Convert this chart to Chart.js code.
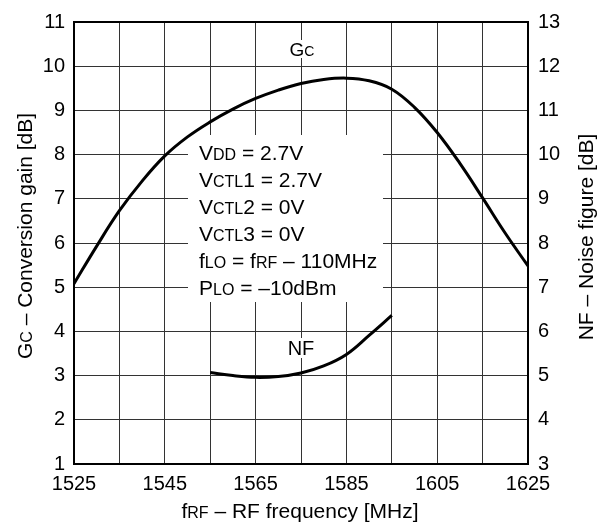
<!DOCTYPE html>
<html>
<head>
<meta charset="utf-8">
<script src="https://cdn.jsdelivr.net/npm/chart.js@4"></script>
<style>
  html, body { margin: 0; padding: 0; background: #fff; }
  #wrap { width: 607px; height: 530px; position: relative; }
</style>
</head>
<body>
<div id="wrap"><canvas id="chartGc"></canvas></div>
<script>
// ---------- data ----------
const freqGc = [1525, 1530, 1535, 1540, 1545, 1550, 1555, 1560, 1565, 1570, 1575,
                1580, 1585, 1590, 1595, 1600, 1605, 1610, 1615, 1620, 1625];
const gainGc = [5.08, 5.93, 6.73, 7.40, 7.97, 8.40, 8.74, 9.03, 9.27, 9.46, 9.61,
                9.70, 9.73, 9.67, 9.48, 9.07, 8.50, 7.80, 7.02, 6.22, 5.48];

const freqNf = [1555, 1560, 1565, 1570, 1575, 1580, 1585, 1590, 1595];
const noiseNf = [5.07, 5.0, 4.96, 4.98, 5.06, 5.22, 5.48, 5.91, 6.36];

const xLabels = [1525, 1545, 1565, 1585, 1605, 1625];
const leftRange = [1, 11];
const rightRange = [3, 13];

// condition text; second item true = small caps subscript style
const condLines = [
  [['V', false], ['DD', true], [' = 2.7V', false]],
  [['V', false], ['CTL', true], ['1 = 2.7V', false]],
  [['V', false], ['CTL', true], ['2 = 0V', false]],
  [['V', false], ['CTL', true], ['3 = 0V', false]],
  [['f', false], ['LO', true], [' = f', false], ['RF', true], [' \u2013 110MHz', false]],
  [['P', false], ['LO', true], [' = \u201310dBm', false]],
];

const INK = '#000';
const GRID = '#333';
const FONT = "'Liberation Sans', Arial, sans-serif";

function drawParts(ctx, parts, x, y, size, align) {
  const small = Math.round(size * 0.74);
  let total = 0;
  parts.forEach(([t, s]) => {
    ctx.font = `${s ? small : size}px ${FONT}`;
    total += ctx.measureText(t).width;
  });
  let cx = align === 'center' ? x - total / 2 : (align === 'right' ? x - total : x);
  ctx.textAlign = 'left';
  ctx.textBaseline = 'alphabetic';
  parts.forEach(([t, s]) => {
    ctx.font = `${s ? small : size}px ${FONT}`;
    ctx.fillText(t, cx, y);
    cx += ctx.measureText(t).width;
  });
}

const decorPlugin = {
  id: 'decor',
  beforeDatasetsDraw(chart) {
    const { ctx, chartArea: a } = chart;
    ctx.save();
    // white panel behind the conditions
    ctx.fillStyle = '#fff';
    ctx.fillRect(188, 135, 195, 167);
    // label backgrounds
    ctx.fillRect(281, 40, 41, 18);
    ctx.fillRect(285, 338, 33, 20);
    // frame
    ctx.strokeStyle = INK;
    ctx.lineWidth = 2;
    ctx.strokeRect(a.left, a.top, a.right - a.left, a.bottom - a.top);

    ctx.fillStyle = INK;
    condLines.forEach((ln, i) => drawParts(ctx, ln, 199, 160 + i * 27, 21, 'left'));
    drawParts(ctx, [['G', false], ['C', true]], 302, 56, 19, 'center');
    drawParts(ctx, [['NF', false]], 301, 355, 20, 'center');

    // axis titles
    drawParts(ctx, [['f', false], ['RF', true], [' \u2013 RF frequency [MHz]', false]], 300, 518, 21, 'center');
    ctx.save();
    ctx.translate(32, 236);
    ctx.rotate(-Math.PI / 2);
    drawParts(ctx, [['G', false], ['C', true], [' \u2013 Conversion gain [dB]', false]], 0, 0, 21, 'center');
    ctx.restore();
    ctx.save();
    ctx.translate(593, 237);
    ctx.rotate(-Math.PI / 2);
    drawParts(ctx, [['NF \u2013 Noise figure [dB]', false]], 0, 0, 21, 'center');
    ctx.restore();
    ctx.restore();
  }
};

Chart.defaults.font.family = FONT;
Chart.defaults.font.size = 20;
Chart.defaults.color = INK;

new Chart(document.getElementById('chartGc'), {
  type: 'line',
  data: {
    datasets: [
      {
        label: 'Gc',
        data: freqGc.map((f, i) => ({ x: f, y: gainGc[i] })),
        yAxisID: 'y',
        borderColor: INK,
        borderWidth: 3,
        pointRadius: 0,
        tension: 0.4,
        fill: false,
      },
      {
        label: 'NF',
        data: freqNf.map((f, i) => ({ x: f, y: noiseNf[i] })),
        yAxisID: 'y2',
        borderColor: INK,
        borderWidth: 3,
        pointRadius: 0,
        tension: 0.4,
        fill: false,
      },
    ]
  },
  plugins: [decorPlugin],
  options: {
    responsive: true,
    maintainAspectRatio: false,
    animation: false,
    layout: { padding: { top: 12, left: 0, right: 0, bottom: 0 } },
    plugins: { legend: { display: false }, tooltip: { enabled: false } },
    scales: {
      x: {
        type: 'linear',
        min: 1525, max: 1625,
        afterFit: (s) => { s.height = 66; },
        afterBuildTicks: (s) => {
          const t = [];
          for (let v = 1525; v <= 1625; v += 10) t.push({ value: v });
          s.ticks = t;
        },
        ticks: {
          autoSkip: false, maxRotation: 0, padding: 8,
          callback: (v) => xLabels.includes(v) ? String(v) : '',
        },
        grid: { color: GRID, lineWidth: 1, drawTicks: false },
        border: { color: INK, width: 2 },
      },
      y: {
        position: 'left',
        min: leftRange[0], max: leftRange[1],
        afterFit: (s) => { s.width = 74; },
        ticks: { stepSize: 1, padding: 9 },
        grid: { color: GRID, lineWidth: 1, drawTicks: false },
        border: { color: INK, width: 2 },
      },
      y2: {
        position: 'right',
        min: rightRange[0], max: rightRange[1],
        afterFit: (s) => { s.width = 79; },
        ticks: { stepSize: 1, padding: 10 },
        grid: { drawOnChartArea: false, drawTicks: false },
        border: { color: INK, width: 2 },
      },
    }
  }
});
</script>
</body>
</html>
